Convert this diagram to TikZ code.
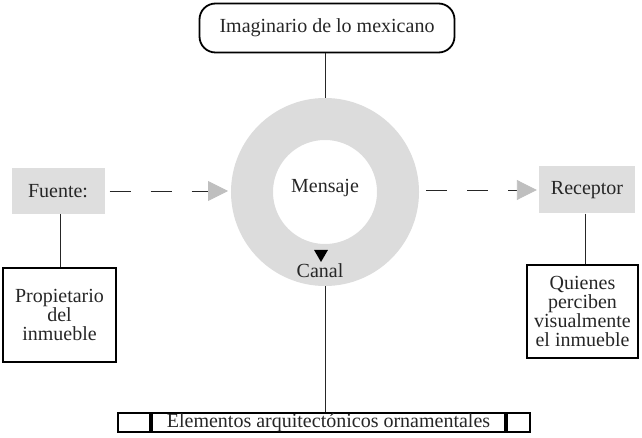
\documentclass[tikz,border=0pt]{standalone}
\usepackage{fontspec}
\setmainfont{Liberation Serif}
\usetikzlibrary{arrows.meta,shapes.geometric}
\definecolor{boxgray}{HTML}{DEDEDE}
\definecolor{ringgray}{HTML}{DCDCDC}
\definecolor{txt}{HTML}{262626}
\tikzset{
  every node/.style={text=txt,font=\fontsize{20}{19}\selectfont},
  framebox/.style={draw=black,line width=1.8pt,align=center,inner sep=0pt},
  graybox/.style={fill=boxgray,inner sep=0pt},
  conn/.style={draw=black!85,line width=0.8pt},
  flow/.style={draw=black!85,line width=0.9pt,dash pattern=on 21pt off 20pt,
    -{Triangle[length=20pt,width=20pt,color=black!25]}},
}
\begin{document}
\begin{tikzpicture}[x=1pt,y=-1pt]
\useasboundingbox (0,0) rectangle (642,438);
% ring
\node[circle,draw=ringgray,line width=42pt,minimum size=146pt,inner sep=0pt] (ring) at (325,192) {};
\node (msg) at (325,188) {Mensaje};
\node[regular polygon,regular polygon sides=3,shape border rotate=180,fill=black,inner sep=0pt,minimum size=16pt] (tri) at (321,254) {};
\node (canal) at (320,271) {Canal};
% top
\node[framebox,rounded corners=16pt,minimum width=255pt,minimum height=49pt] (top) at (327,28) {Imaginario de lo mexicano};
% left
\node[graybox,minimum width=93pt,minimum height=46pt] (fuente) at (58,191) {Fuente:};
\node[framebox,minimum width=113pt,minimum height=94pt] (prop) at (59.5,315) {Propietario\\del\\inmueble};
% right
\node[graybox,minimum width=96pt,minimum height=47pt] (rec) at (587,190) {Receptor};
\node[framebox,minimum width=111pt,minimum height=93pt] (quien) at (582.5,311.5) {Quienes\\perciben\\visualmente\\el inmueble};
% bottom
\node[framebox,minimum width=353pt,minimum height=19pt,text height=13pt,text depth=3pt] (elem) at (328.5,422.5) {Elementos arquitectónicos ornamentales};
\node[framebox,minimum width=32pt,minimum height=19pt,anchor=east] (lcell) at (elem.west) {};
\node[framebox,minimum width=23pt,minimum height=19pt,anchor=west] (rcell) at (elem.east) {};
% connectors
\draw[conn] (top.south -| ring.north) -- (ring.north);
\draw[conn] (ring.south) -- (ring.south |- elem.north);
\draw[conn] (fuente.south -| 60,0) -- (prop.north -| 60,0);
\draw[conn] (rec.south -| 585,0) -- (quien.north -| 585,0);
\draw[flow] ([xshift=5pt]fuente.east) -- ([xshift=-3pt]ring.west |- fuente.east);
\draw[flow,dash phase=0pt] ([xshift=7pt]ring.east |- rec.west) -- ([xshift=-2pt]rec.west);
\end{tikzpicture}
\end{document}
